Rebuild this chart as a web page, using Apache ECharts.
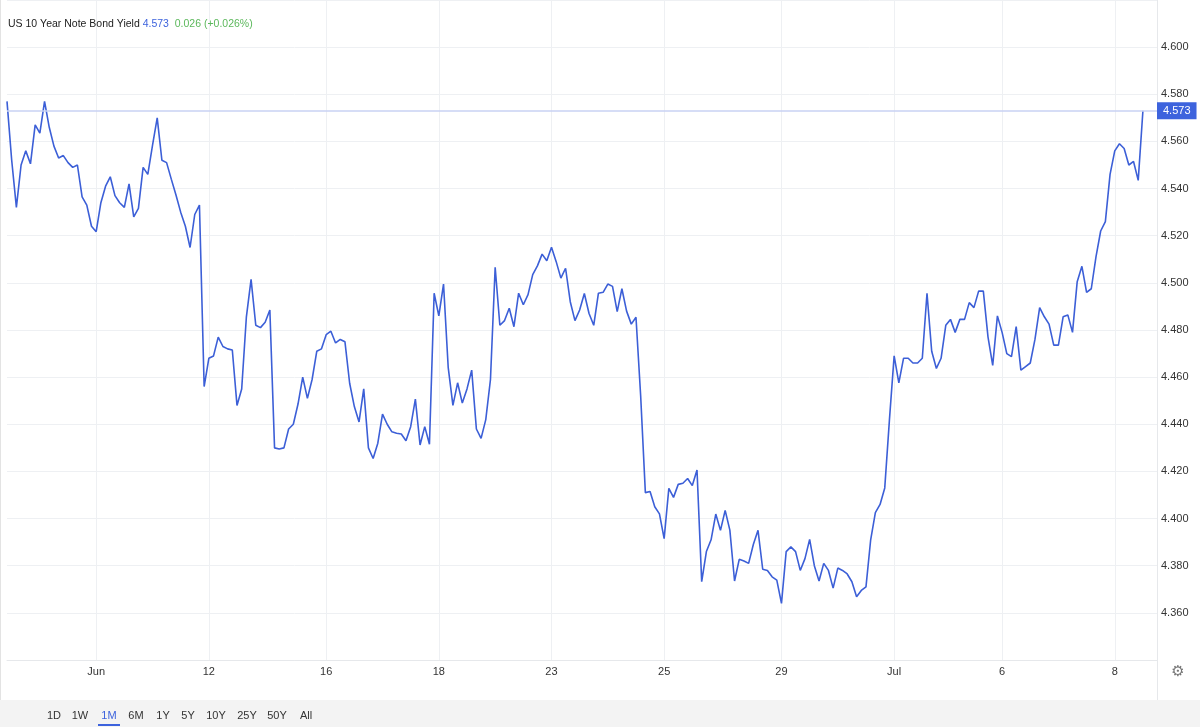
<!DOCTYPE html>
<html>
<head>
<meta charset="utf-8">
<script src="https://cdn.jsdelivr.net/npm/echarts@6/dist/echarts.min.js"></script>
<style>
html, body { margin: 0; padding: 0; background: #fff; }
#chart { width: 1200px; height: 727px; }
</style>
</head>
<body>
<div id="chart"></div>
<script>
// intraday yield samples, one every slot (trading time compressed)
var yields = [
    4.577, 4.552, 4.532, 4.550, 4.556, 4.5505, 4.567, 4.5635, 4.577, 4.566,
    4.558, 4.553, 4.554, 4.551, 4.549, 4.550, 4.5365, 4.533, 4.524, 4.5217,
    4.534, 4.541, 4.545, 4.537, 4.534, 4.532, 4.542, 4.528, 4.5316, 4.549,
    4.546, 4.5583, 4.570, 4.552, 4.551, 4.544, 4.5373, 4.530, 4.524, 4.515,
    4.529, 4.533, 4.456, 4.468, 4.469, 4.477, 4.473, 4.472, 4.4715, 4.448,
    4.455, 4.4856, 4.5015, 4.482, 4.481, 4.4833, 4.4885, 4.430, 4.4295, 4.430,
    4.438, 4.440, 4.4486, 4.460, 4.451, 4.459, 4.471, 4.472, 4.478, 4.4795,
    4.4745, 4.476, 4.475, 4.4574, 4.4475, 4.441, 4.455, 4.430, 4.4255, 4.432,
    4.4443, 4.440, 4.4368, 4.4362, 4.4359, 4.433, 4.439, 4.4507, 4.4312, 4.439,
    4.4315, 4.4956, 4.486, 4.4995, 4.464, 4.448, 4.4576, 4.449, 4.455, 4.463,
    4.438, 4.434, 4.442, 4.459, 4.5066, 4.482, 4.484, 4.4892, 4.4814, 4.4956,
    4.4907, 4.495, 4.5035, 4.5072, 4.5122, 4.5094, 4.5151, 4.509, 4.502, 4.5062,
    4.492, 4.484, 4.4885, 4.4955, 4.487, 4.482, 4.4956, 4.496, 4.4995, 4.4985,
    4.4878, 4.4975, 4.488, 4.4825, 4.4854, 4.452, 4.411, 4.4115, 4.405, 4.402,
    4.3915, 4.4128, 4.409, 4.4145, 4.415, 4.417, 4.414, 4.4206, 4.3732, 4.386,
    4.391, 4.4019, 4.395, 4.4035, 4.3951, 4.3735, 4.3827, 4.382, 4.381, 4.389,
    4.395, 4.3785, 4.378, 4.3753, 4.3739, 4.364, 4.386, 4.388, 4.386, 4.378,
    4.383, 4.3912, 4.380, 4.3735, 4.381, 4.378, 4.3705, 4.379, 4.378, 4.3765,
    4.3732, 4.3668, 4.3695, 4.371, 4.391, 4.4025, 4.406, 4.413, 4.442, 4.469,
    4.4576, 4.468, 4.468, 4.466, 4.466, 4.468, 4.4956, 4.471, 4.4637, 4.468,
    4.482, 4.4845, 4.479, 4.4845, 4.4845, 4.4916, 4.4895, 4.4965, 4.4965, 4.477,
    4.465, 4.486, 4.479, 4.470, 4.4687, 4.4814, 4.463, 4.4645, 4.466, 4.476,
    4.4895, 4.4856, 4.4825, 4.4736, 4.4736, 4.4856, 4.4864, 4.479, 4.5005, 4.507,
    4.496, 4.4975, 4.511, 4.522, 4.526, 4.546, 4.556, 4.559, 4.557, 4.550,
    4.5515, 4.5435, 4.573
];
var tickLabels = ['Jun', '12', '16', '18', '23', '25', '29', 'Jul', '6', '8'];
var tickIndex = [19, 43, 68, 92, 116, 140, 165, 189, 212, 236];
var ranges = ['1D', '1W', '1M', '6M', '1Y', '5Y', '10Y', '25Y', '50Y', 'All'];
var activeRange = '1M';
var seriesName = 'US 10 Year Note Bond Yield';
var lastValue = 4.573;
var change = 0.026;
var changePct = 0.026;
var slotCount = 246;

var categories = [];
for (var i = 0; i < slotCount; i++) categories.push(String(i));
var labelAt = {};
tickIndex.forEach(function (idx, k) { labelAt[idx] = tickLabels[k]; });
function isTick(idx) { return labelAt[idx] !== undefined; }

var font = 'Liberation Sans, Arial, Helvetica, sans-serif';
var gridColor = '#eef0f3';

// range buttons in the bottom bar
var rangeX = [54, 80, 109, 136, 163, 188, 216, 247, 277, 306];
var buttons = ranges.map(function (r, k) {
    return {
        type: 'text',
        x: rangeX[k],
        y: 716,
        style: {
            text: r,
            fill: r === activeRange ? '#3d63dd' : '#333',
            font: '11px ' + font,
            align: 'center',
            verticalAlign: 'middle'
        }
    };
});

var chart = echarts.init(document.getElementById('chart'));
chart.setOption({
    animation: false,
    textStyle: { fontFamily: font },
    title: {
        left: 8,
        top: 19,
        padding: 0,
        text: '{n|' + seriesName + '} {v|' + lastValue.toFixed(3) + '}  {c|' +
            change.toFixed(3) + ' (+' + changePct.toFixed(3) + '%)}',
        textStyle: {
            fontWeight: 'normal',
            fontSize: 10.5,
            rich: {
                n: { color: '#222', fontSize: 10.5, fontWeight: 'normal', fontFamily: font },
                v: { color: '#3d63dd', fontSize: 10.5, fontWeight: 'normal', fontFamily: font },
                c: { color: '#5cb85c', fontSize: 10.5, fontWeight: 'normal', fontFamily: font }
            }
        }
    },
    grid: { left: 7, right: 43, top: 0, bottom: 67 },
    xAxis: {
        type: 'category',
        data: categories,
        boundaryGap: false,
        axisLine: { show: true, lineStyle: { color: '#e6e8eb' } },
        axisTick: { show: false },
        axisLabel: {
            interval: function (idx) { return isTick(idx); },
            formatter: function (v) { return labelAt[Number(v)] || ''; },
            color: '#333',
            fontSize: 11,
            margin: 6
        },
        splitLine: {
            show: true,
            interval: function (idx) { return isTick(idx); },
            lineStyle: { color: gridColor }
        }
    },
    yAxis: {
        type: 'value',
        position: 'right',
        min: 4.34,
        max: 4.62,
        interval: 0.02,
        axisLine: { show: false },
        axisTick: { show: false },
        axisLabel: {
            formatter: function (v) { return v.toFixed(3); },
            color: '#333',
            fontSize: 11,
            margin: 4,
            showMinLabel: false,
            showMaxLabel: false
        },
        splitLine: { lineStyle: { color: gridColor } }
    },
    series: [{
        name: seriesName,
        type: 'line',
        data: yields,
        showSymbol: false,
        lineStyle: { color: '#3c5fd7', width: 1.6 },
        markLine: {
            silent: true,
            precision: 3,
            symbol: ['none', 'none'],
            lineStyle: { color: '#c9d2f3', width: 1.5, type: 'solid' },
            label: {
                position: 'end',
                distance: 0,
                formatter: function () { return lastValue.toFixed(3); },
                backgroundColor: '#3d63dd',
                color: '#fff',
                fontSize: 11,
                padding: [3, 6, 3, 6]
            },
            data: [{ yAxis: lastValue }]
        }
    }],
    graphic: [
        { type: 'rect', left: 0, top: 700, shape: { width: 1200, height: 27 }, style: { fill: '#f3f3f3' } },
        { type: 'line', shape: { x1: 0.5, y1: 0, x2: 0.5, y2: 700 }, style: { stroke: '#e3e3e3' } },
        { type: 'line', shape: { x1: 1157.5, y1: 0, x2: 1157.5, y2: 700 }, style: { stroke: '#e6e8eb' } },
        { type: 'rect', shape: { x: 98, y: 724, width: 22, height: 2 }, style: { fill: '#3d63dd' } },
        { type: 'text', x: 1178, y: 672, style: { text: '\u2699', fill: '#777', font: '15px DejaVu Sans', align: 'center', verticalAlign: 'middle' } }
    ].concat(buttons)
});
</script>
</body>
</html>
